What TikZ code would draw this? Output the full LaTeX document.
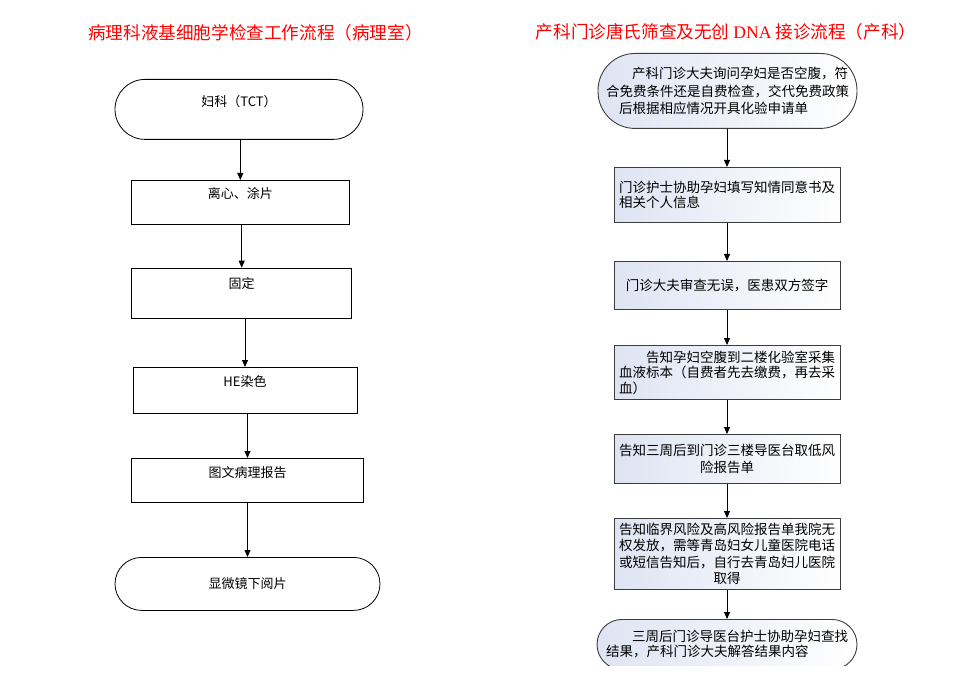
\documentclass[tikz,border=0pt]{standalone}
\usepackage{fontspec}
\setmainfont{Noto Sans CJK SC}
\newfontfamily\dnafont{Liberation Serif}
\usetikzlibrary{arrows.meta}
\definecolor{titlered}{RGB}{255,0,0}
\definecolor{boxline}{RGB}{60,60,60}
\definecolor{shadeblue}{RGB}{222,228,243}
\begin{document}
\begin{tikzpicture}[x=1pt,y=-1pt,
  lbox/.style={draw=black, line width=0.8pt, inner sep=0pt, anchor=north,
    font=\fontsize{13}{16}\selectfont},
  rbox/.style={draw=boxline, line width=0.9pt, left color=shadeblue, right color=white,
    anchor=north, inner sep=2pt, minimum width=226pt},
  conn/.style={-{Triangle[length=7pt,width=6pt]}, line width=0.8pt, draw=black},
  ttl/.style={text=titlered, font=\fontsize{17.6}{20}\selectfont, inner sep=0pt}
]
\useasboundingbox (0,0) rectangle (960,684);

% titles
\node[ttl] (t1) at (255.5,33) {病理科液基细胞学检查工作流程（病理室）};
\node[ttl] (t2) at (726,32) {产科门诊唐氏筛查及无创 {\dnafont DNA} 接诊流程（产科）};

% left flow
\node[lbox, rounded corners=30pt, minimum width=248pt, text height=27pt, text depth=33pt] (a1) at (239,79) {妇科（TCT）};
\node[lbox, minimum width=217.3pt, text height=18pt, text depth=26pt] (a2) at (240.3,180) {离心、涂片};
\node[lbox, minimum width=220pt, text height=20.3pt, text depth=29.7pt] (a3) at (241.7,267.7) {固定};
\node[lbox, minimum width=224pt, text height=18.7pt, text depth=27pt] (a4) at (245,367) {HE染色};
\node[lbox, minimum width=231.6pt, text height=18.7pt, text depth=25.6pt] (a5) at (247.5,458) {图文病理报告};
\node[lbox, rounded corners=26.5pt, minimum width=265pt, text height=31pt, text depth=22pt] (a6) at (247.5,557) {显微镜下阅片};

\foreach \u/\v in {a1/a2,a2/a3,a3/a4,a4/a5,a5/a6}
  \draw[conn] (\v.north |- \u.south) -- (\v.north);

% right flow
\node[rbox, rounded corners=37pt, minimum width=259pt, minimum height=75pt, align=left,
  font=\fontsize{13.5}{17.5}\selectfont] (b1) at (727.5,53)
  {\hspace*{26pt}产科门诊大夫询问孕妇是否空腹，符\\合免费条件还是自费检查，交代免费政策\hspace*{8pt}\\\hspace*{13pt}后根据相应情况开具化验申请单};
\node[rbox, minimum height=55pt, align=left, font=\fontsize{13.5}{15}\selectfont] (b2) at (727,167)
  {门诊护士协助孕妇填写知情同意书及\\相关个人信息};
\node[rbox, minimum height=48pt, font=\fontsize{13.5}{15}\selectfont] (b3) at (727,261)
  {门诊大夫审查无误，医患双方签字};
\node[rbox, minimum height=54pt, align=left, font=\fontsize{13.5}{15.5}\selectfont] (b4) at (727,345)
  {\hspace*{27pt}告知孕妇空腹到二楼化验室采集\\血液标本（自费者先去缴费，再去采\\血）};
\node[rbox, minimum height=49pt, align=center, font=\fontsize{13.5}{17}\selectfont] (b5) at (727,434)
  {告知三周后到门诊三楼导医台取低风\\险报告单};
\node[rbox, minimum height=71pt, align=center, font=\fontsize{13.5}{16.5}\selectfont] (b6) at (727,518)
  {告知临界风险及高风险报告单我院无\\权发放，需等青岛妇女儿童医院电话\\或短信告知后，自行去青岛妇儿医院\\取得};
\begin{scope}
  \clip (0,0) rectangle (960,665);
  \node[rbox, rounded corners=25pt, minimum width=260pt, minimum height=50pt, align=left,
    font=\fontsize{13.5}{15}\selectfont] (b7) at (727,619)
    {\hspace*{26pt}三周后门诊导医台护士协助孕妇查找\\结果，产科门诊大夫解答结果内容};
\end{scope}

\foreach \u/\v in {b1/b2,b2/b3,b3/b4,b4/b5,b5/b6,b6/b7}
  \draw[conn] (\v.north |- \u.south) -- (\v.north);
\end{tikzpicture}
\end{document}
